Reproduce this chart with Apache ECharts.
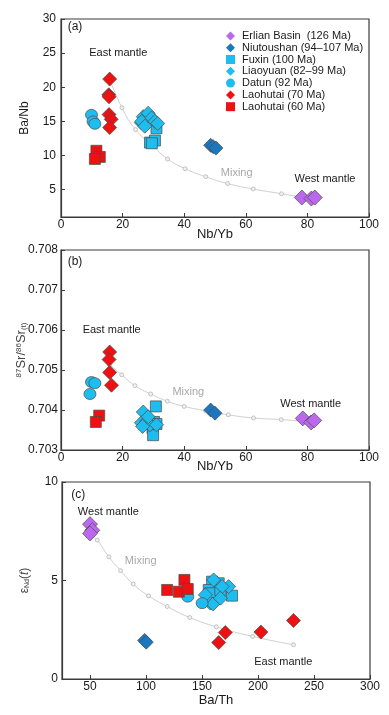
<!DOCTYPE html>
<html>
<head>
<meta charset="utf-8">
<script src="https://cdn.jsdelivr.net/npm/echarts@6/dist/echarts.min.js"></script>
<style>html,body{margin:0;padding:0;background:#fff;}#c{width:389px;height:715px;}</style>
</head>
<body>
<div id="c"></div>
<script>
// ---------- data ----------
const seriesNames = ['Erlian Basin  (126 Ma)','Niutoushan (94\u2013107 Ma)','Fuxin (100 Ma)','Liaoyuan (82\u201399 Ma)','Datun (92 Ma)','Laohutai (70 Ma)','Laohutai (60 Ma)'];

// Panel (a): Nb/Yb vs Ba/Nb
const erlianA = [[78.2,3.85],[81.3,3.7],[82.4,3.85]];
const niuA    = [[48.6,11.5],[49.4,11.3],[50.3,11.1]];
const fuxinA  = [[28.9,11.9],[30.5,12.2],[31.0,14.0],[29.5,11.8]];
const liaoA   = [[26.1,14.8],[26.7,15.7],[27.4,15.4],[28.3,16.2],[29.4,15.5],[26.2,15.0],[27.2,14.3],[30.5,15.0],[31.4,14.7]];
const datunA  = [[9.9,15.96],[10.4,15.0],[11.0,14.65]];
const lao70A  = [[15.8,21.2],[15.5,18.9],[15.6,18.6],[15.6,16.0],[16.3,15.3],[15.8,14.1]];
const lao60A  = [[11.5,10.7],[12.6,9.8],[11.0,9.5]];
const mixA    = [[15.8,21.2],[19.8,17.0],[24.2,13.8],[29.4,11.6],[34.6,9.5],[40.3,8.07],[47.0,6.9],[54.1,5.9],[62.4,5.1],[71.6,4.4],[78.0,3.9]];

// Panel (b): Nb/Yb vs 87Sr/86Sr(t)
const erlianB = [[78.5,0.70379],[81.2,0.70369],[82.2,0.70374]];
const niuB    = [[48.6,0.70400],[50.0,0.70392]];
const fuxinB  = [[30.8,0.70409],[30.2,0.70370],[29.7,0.70355],[29.9,0.70337],[31.0,0.70365]];
const liaoB   = [[26.7,0.70395],[26.1,0.70368],[27.8,0.70372],[28.9,0.70363],[31.0,0.70363],[26.5,0.70359],[28.3,0.70383]];
const datunB  = [[9.9,0.70470],[11.0,0.70467],[9.4,0.70440]];
const lao70B  = [[15.8,0.70545],[15.6,0.70526],[15.8,0.70494],[16.4,0.70462]];
const lao60B  = [[12.4,0.70386],[11.3,0.70370]];
const mixB    = [[15.8,0.70513],[19.7,0.70488],[24.0,0.70461],[29.1,0.70440],[34.5,0.70422],[40.0,0.70409],[47.0,0.70398],[54.3,0.70388],[62.5,0.70380],[71.5,0.70376],[78.0,0.70372]];

// Panel (c): Ba/Th vs eNd(t)
const erlianC = [[50.0,7.86],[52.0,7.55],[50.0,7.39]];
const niuC    = [[98.7,1.96],[100.2,1.87]];
const fuxinC  = [[159.0,4.94],[164.9,4.86],[156.0,4.52],[162.0,4.10],[176.8,4.23],[157.5,4.35],[166.4,4.52]];
const liaoC   = [[173.8,4.69],[157.5,3.85],[153.0,4.27],[168.0,4.69],[160.4,5.03],[159.9,3.81],[166.4,4.10]];
const datunC  = [[137.3,4.18],[150.1,3.85]];
const lao70C  = [[170.8,2.36],[164.9,1.85],[202.6,2.38],[231.7,2.97]];
const lao60C  = [[118.9,4.52],[129.3,4.43],[134.3,5.03],[137.3,4.57]];
const mixC    = [[50.0,7.4],[56.5,7.05],[66.9,6.2],[77.3,5.5],[88.6,4.82],[102.3,4.22],[118.9,3.68],[139.1,3.12],[162.8,2.65],[195.2,2.16],[231.7,1.74]];

const ticksA_y = [5,10,15,20,25,30];
const ticksC_x = [50,100,150,200,250,300];

// ---------- styles ----------
const FONT = '"Liberation Sans", Arial, sans-serif';
const TXT = '#1a1a1a';
const FRAME = '#3a3a3a';
const styles = [
  {symbol:'diamond', color:'#BC68EE', size:15},
  {symbol:'diamond', color:'#1B78C0', size:14},
  {symbol:'rect',    color:'#1EBDEF', size:11},
  {symbol:'diamond', color:'#1EBDEF', size:14},
  {symbol:'circle',  color:'#1EBDEF', size:[12,11]},
  {symbol:'diamond', color:'#EE1111', size:14},
  {symbol:'rect',    color:'#EE1111', size:11}
];
const legendIcon = ['diamond','diamond','rect','diamond','circle','diamond','rect'];

const chart = echarts.init(document.getElementById('c'));

function xAxis(gi, min, max, opts) {
  return Object.assign({
    gridIndex: gi, type:'value', min:min, max:max,
    nameLocation:'middle', nameMoveOverlap:false,
    nameTextStyle:{fontFamily:FONT, fontSize:13, color:TXT},
    axisLine:{show:true, lineStyle:{color:FRAME, width:1.2}},
    axisTick:{show:true, inside:true, length:4, lineStyle:{color:FRAME}},
    axisLabel:{fontFamily:FONT, fontSize:12, color:TXT, margin:2},
    splitLine:{show:false}
  }, opts);
}
function yAxis(gi, min, max, opts) {
  return Object.assign({
    gridIndex: gi, type:'value', min:min, max:max,
    nameLocation:'middle', nameRotate:90, nameMoveOverlap:false,
    axisLine:{show:true, lineStyle:{color:FRAME, width:1.2}},
    axisTick:{show:true, inside:true, length:4, lineStyle:{color:FRAME}},
    splitLine:{show:false}
  }, opts);
}

const panels = [
  [erlianA, niuA, fuxinA, liaoA, datunA, lao70A, lao60A, mixA],
  [erlianB, niuB, fuxinB, liaoB, datunB, lao70B, lao60B, mixB],
  [erlianC, niuC, fuxinC, liaoC, datunC, lao70C, lao60C, mixC]
];

const series = [];
panels.forEach((p, gi) => {
  series.push({
    type:'line', xAxisIndex:gi, yAxisIndex:gi, data:p[7], smooth:true,
    symbol:'circle', symbolSize:4, showSymbol:true, silent:true, z:1,
    lineStyle:{color:'#cfcfcf', width:1},
    itemStyle:{color:'#f0f0f0', borderColor:'#b8b8b8', borderWidth:0.8}
  });
  for (let i = 0; i < 7; i++) {
    series.push({
      name: seriesNames[i], type:'scatter', xAxisIndex:gi, yAxisIndex:gi,
      data:p[i], symbol:styles[i].symbol, symbolSize:styles[i].size, z:3,
      itemStyle:{color:styles[i].color, borderColor:'#4a4a4a', borderWidth:0.7, opacity:1}
    });
  }
});

function txt(x, y, s, opts) {
  return {type:'text', x:x, y:y, silent:true, z:100,
    style:Object.assign({text:s, fontFamily:FONT, fontSize:11, fill:TXT, align:'center', verticalAlign:'middle'}, opts||{})};
}

const gridBase = {show:true, borderColor:FRAME, borderWidth:1.2, containLabel:false, outerBoundsMode:'none'};

const option = {
  animation:false,
  backgroundColor:'#fff',
  grid:[
    Object.assign({left:61, top:19, width:308, height:198}, gridBase),
    Object.assign({left:61, top:250, width:308, height:200}, gridBase),
    Object.assign({left:62, top:482, width:308, height:197}, gridBase)
  ],
  xAxis:[
    xAxis(0, 0, 100, {interval:20, name:'Nb/Yb', nameGap:11}),
    xAxis(1, 0, 100, {interval:20, name:'Nb/Yb', nameGap:10}),
    xAxis(2, 25, 300, {name:'Ba/Th', nameGap:15,
      axisLabel:{fontFamily:FONT, fontSize:12, color:TXT, margin:2, customValues:ticksC_x},
      axisTick:{show:true, inside:true, length:4, lineStyle:{color:FRAME}, customValues:ticksC_x}})
  ],
  yAxis:[
    yAxis(0, 1, 30, {name:'Ba/Nb', nameGap:30,
      nameTextStyle:{fontFamily:FONT, fontSize:12, color:TXT},
      axisLabel:{fontFamily:FONT, fontSize:12, color:TXT, margin:5, customValues:ticksA_y},
      axisTick:{show:true, inside:true, length:4, lineStyle:{color:FRAME}, customValues:ticksA_y}}),
    yAxis(1, 0.703, 0.708, {interval:0.001, name:'{sup|87}{b|Sr/}{sup|86}{b|Sr}{sub|(t)}', nameGap:33,
      nameTextStyle:{fontFamily:FONT, color:'#444',
        rich:{b:{fontFamily:FONT, fontSize:13, color:'#444', verticalAlign:'middle'},
              sup:{fontFamily:FONT, fontSize:8, color:'#444', verticalAlign:'top'},
              sub:{fontFamily:FONT, fontSize:8, color:'#444', verticalAlign:'bottom'}}},
      axisLabel:{fontFamily:FONT, fontSize:12, color:TXT, margin:3, formatter:v=>v.toFixed(3)}}),
    yAxis(2, 0, 10, {interval:5, name:'{b|\u03b5}{sub|Nd}{b|(}{i|t}{b|)}', nameGap:31,
      nameTextStyle:{fontFamily:FONT, color:'#444',
        rich:{b:{fontFamily:FONT, fontSize:12, color:'#444'},
              i:{fontFamily:FONT, fontSize:12, color:'#444', fontStyle:'italic'},
              sub:{fontFamily:FONT, fontSize:7, color:'#444', verticalAlign:'bottom'}}},
      axisLabel:{fontFamily:FONT, fontSize:12, color:TXT, margin:4}})
  ],
  legend:{
    data:seriesNames.map((n, i) => ({name:n, icon:legendIcon[i]})),
    orient:'vertical', left:221, top:25, itemWidth:9, itemHeight:9, itemGap:0,
    selectedMode:false,
    itemStyle:{borderWidth:0},
    textStyle:{fontFamily:FONT, fontSize:11, color:TXT, lineHeight:11.8, padding:[0,0,0,2]}
  },
  graphic:[
    txt(75, 26.7, '(a)', {fontSize:12}),
    txt(118.3, 53.3, 'East mantle'),
    txt(325, 179.3, 'West mantle'),
    txt(236.7, 172.7, 'Mixing', {fill:'#a8a8a8'}),
    txt(75, 261.7, '(b)', {fontSize:12}),
    txt(111.7, 330.3, 'East mantle'),
    txt(188.3, 391.7, 'Mixing', {fill:'#a8a8a8'}),
    txt(310.7, 404.3, 'West mantle'),
    txt(78.3, 495, '(c)', {fontSize:12}),
    txt(108.3, 512.3, 'West mantle'),
    txt(140.7, 561, 'Mixing', {fill:'#a8a8a8'}),
    txt(283.3, 661.7, 'East mantle')
  ],
  series:series
};
chart.setOption(option);
</script>
</body>
</html>
